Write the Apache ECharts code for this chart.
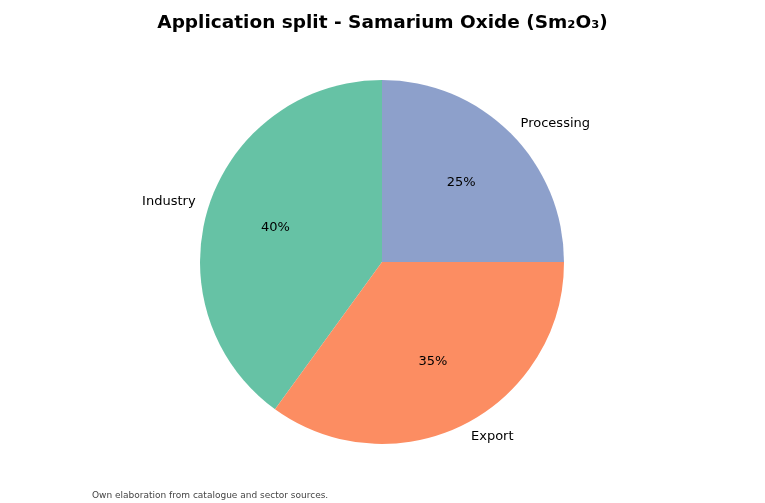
<!DOCTYPE html>
<html><head><meta charset="utf-8">
<script src="https://cdn.jsdelivr.net/npm/echarts@6/dist/echarts.min.js"></script>
<style>html,body{margin:0;padding:0;background:#fff}#c{width:765px;height:503px}</style>
</head><body><div id="c"></div>
<script>
const categories = ["Industry", "Export", "Processing"];
const values = [40, 35, 25];
const colors = ["#66c2a5", "#fc8d62", "#8da0cb"];
const data = categories.map((n, i) => ({name: n, value: values[i], itemStyle: {color: colors[i]}}));
const chart = echarts.init(document.getElementById('c'));
chart.setOption({
  animation: false,
  title: {text: 'Application split - Samarium Oxide (Sm\u2082O\u2083)', left: 'center', top: 9,
    textStyle: {fontFamily: 'DejaVu Sans', fontSize: 18.5, fontWeight: 'bold', color: '#000'}},
  graphic: [{type: 'text', left: 92, top: 491, style: {text: 'Own elaboration from catalogue and sector sources.', fontFamily: 'DejaVu Sans', fontSize: 9, fill: '#444'}}],
  series: [
    {type: 'pie', center: [382, 262], radius: [0, 182], startAngle: 90, clockwise: false, silent: true,
     data: data, z: 2,
     label: {show: true, position: 'outside', formatter: '{b}', fontFamily: 'DejaVu Sans', fontSize: 13, color: '#000', distanceToLabelLine: 0},
     labelLine: {show: false, length: 14, length2: 0},
     labelLayout: {hideOverlap: false}},
    {type: 'pie', center: [382, 262], radius: [0, 218], startAngle: 90, clockwise: false, silent: true, z: 3,
     data: categories.map((n, i) => ({name: n, value: values[i]})),
     itemStyle: {color: 'rgba(0,0,0,0)'},
     label: {show: true, position: 'inside', formatter: '{c}%', fontFamily: 'DejaVu Sans', fontSize: 13, color: '#000'},
     labelLine: {show: false},
     labelLayout: {hideOverlap: false}}
  ]
});
</script></body></html>
